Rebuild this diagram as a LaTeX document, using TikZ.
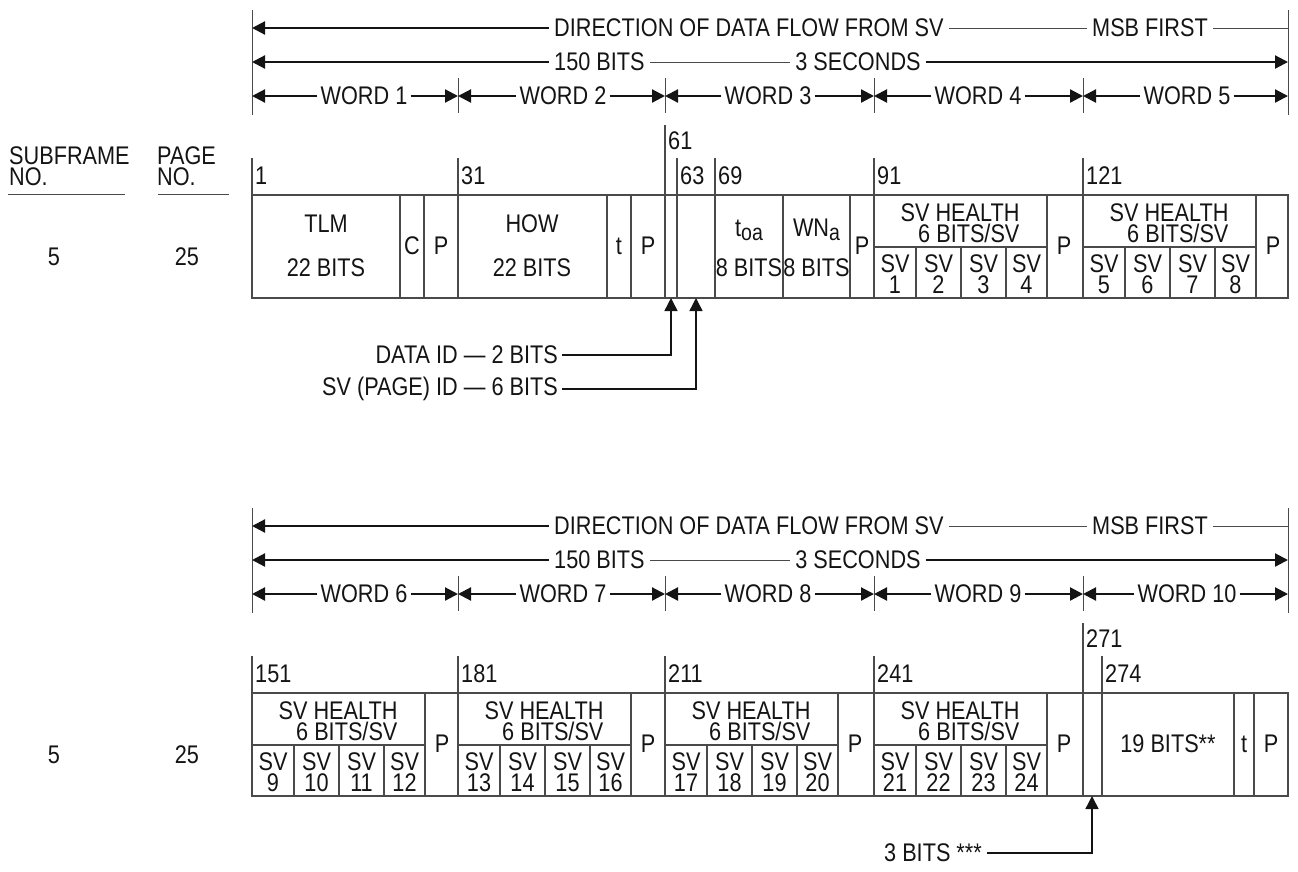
\documentclass[tikz,border=0pt]{standalone}
\usepackage{fontspec}
\setmainfont{Liberation Sans}[FakeStretch=0.85]
\usetikzlibrary{arrows.meta,positioning}
\definecolor{figink}{HTML}{141414}
\definecolor{figrule}{HTML}{4A4A4A}

\begin{document}
\begin{tikzpicture}[x=1pt, y=-1pt,
  every node/.style={font=\fontsize{25.5}{21}\selectfont, text=figink, inner sep=1pt},
  flow/.style={-{Triangle[length=13pt,width=13pt]}, line width=2.2pt, draw=figink},
  pointer/.style={-{Triangle[length=13pt,width=13pt]}, line width=1.5pt, draw=figink},
  thinrule/.style={line width=1pt, draw=figrule},
  cellrule/.style={line width=1.4pt, draw=figrule},
  headtext/.style={inner sep=5pt},
  wordtext/.style={inner sep=3pt},
  numlabel/.style={anchor=west, inner sep=2pt},
  cell/.style={align=center},
]
  \useasboundingbox (0,0) rectangle (1298,871);

  % #1 name, #2 y offset, #3-#7 word numbers
  \newcommand{\flowheader}[7]{%
    \begin{scope}[shift={(0,#2)}]
      \draw[thinrule] (252,10) -- (252,115) (1288,10) -- (1288,115);
      \foreach \x in {458,665,874,1083} {
        \draw[thinrule] (\x,78) -- (\x,113);
      }
      % Direction of data flow.
      \node[headtext, anchor=west] (#1-dir) at (549,28) {DIRECTION OF DATA FLOW FROM SV};
      \node[headtext] (#1-msb) at (1150,28) {MSB FIRST};
      \coordinate (#1-dl) at (252,28);
      \coordinate (#1-dr) at (1288,28);
      \draw[flow] (#1-dir.west) -- (#1-dl);
      \draw[thinrule] (#1-dir.east) -- (#1-msb.west);
      \draw[thinrule] (#1-msb.east) -- (#1-dr);
      % Bits and seconds.
      \node[headtext, anchor=west] (#1-bits) at (549,62) {150 BITS};
      \node[headtext] (#1-secs) at (858,62) {3 SECONDS};
      \coordinate (#1-bl) at (252,62);
      \coordinate (#1-br) at (1288,62);
      \draw[flow] (#1-bits.west) -- (#1-bl);
      \draw[thinrule] (#1-bits.east) -- (#1-secs.west);
      \draw[flow] (#1-secs.east) -- (#1-br);
      % Word spans.
      \foreach \x [count=\i] in {252,458,665,874,1083,1288} {
        \coordinate (#1-t\i) at (\x,96);
      }
      \node[wordtext] (#1-w1) at (364,96) {WORD #3};
      \node[wordtext] (#1-w2) at (563,96) {WORD #4};
      \node[wordtext] (#1-w3) at (768,96) {WORD #5};
      \node[wordtext] (#1-w4) at (978,96) {WORD #6};
      \node[wordtext] (#1-w5) at (1187,96) {WORD #7};
      \foreach \i/\j in {1/2,2/3,3/4,4/5,5/6} {
        \draw[flow] (#1-w\i.west) -- (#1-t\i);
        \draw[flow] (#1-w\i.east) -- (#1-t\j);
      }
    \end{scope}%
  }

  % #1 name, #2 word start, #3-#6 SV numbers
  \newcommand{\svhealth}[6]{%
    \draw[cellrule] (#2,247) -- (#2+173,247);
    \foreach \dx in {42,87,132} {
      \draw[cellrule] (#2+\dx,247) -- (#2+\dx,298);
    }
    \draw[cellrule] (#2+173,195) -- (#2+173,298);
    \node[align=right, inner sep=0pt] (#1-head) at (#2+86,223) {SV HEALTH\\6 BITS/SV};
    \node (#1-p) at (#2+190,246) {P};
    \node[cell, inner sep=0pt] (#1-a) at (#2+21,274) {SV\\#3};
    \node[cell, inner sep=0pt] (#1-b) at (#2+64.5,274) {SV\\#4};
    \node[cell, inner sep=0pt] (#1-c) at (#2+109.5,274) {SV\\#5};
    \node[cell, inner sep=0pt] (#1-d) at (#2+152.5,274) {SV\\#6};
  }

  % Page 25, words 1 to 5.
  \flowheader{hA}{0}{1}{2}{3}{4}{5}
  \node[align=left, anchor=west] (subframe) at (8,166) {SUBFRAME\\NO.};
  \node[align=left, anchor=west] (pagehd) at (156,166) {PAGE\\NO.};
  \draw[thinrule] (8,194) -- (125,194) (158,194) -- (229,194);
  \node (sfA) at (54,257) {5};
  \node (pgA) at (187,257) {25};

  \draw[cellrule] (252,195) rectangle (1288,298);
  \foreach \x in {400,424,458,607,631,665,677,715,783,850,874,1083} {
    \draw[cellrule] (\x,195) -- (\x,298);
  }
  \foreach \x in {252,458,677,715,874,1083} {
    \draw[cellrule] (\x,158) -- (\x,195);
  }
  \draw[cellrule] (665,125) -- (665,195);
  \node[numlabel] (nA1) at (253,176) {1};
  \node[numlabel] (nA31) at (459,176) {31};
  \node[numlabel] (nA61) at (666,141) {61};
  \node[numlabel] (nA63) at (678,176) {63};
  \node[numlabel] (nA69) at (716,176) {69};
  \node[numlabel] (nA91) at (875,176) {91};
  \node[numlabel] (nA121) at (1084,176) {121};

  \node (tlm) at (326,224) {TLM};
  \node (tlmbits) at (326,268) {22 BITS};
  \node (tlmc) at (412,246) {C};
  \node (tlmp) at (441,246) {P};
  \node (how) at (532,224) {HOW};
  \node (howbits) at (532,268) {22 BITS};
  \node (howt) at (619,246) {t};
  \node (howp) at (648,246) {P};
  \node (toa) at (749,230) {t{\fontsize{23}{23}\selectfont\raisebox{-0.35ex}{oa}}};
  \node[inner sep=0pt] (toabits) at (749,268) {8 BITS};
  \node (wna) at (816.5,230) {WN{\fontsize{23}{23}\selectfont\raisebox{-0.35ex}{a}}};
  \node[inner sep=0pt] (wnabits) at (816.5,268) {8 BITS};
  \node (wnap) at (862,246) {P};
  \svhealth{svA}{874}{1}{2}{3}{4}
  \svhealth{svB}{1083}{5}{6}{7}{8}

  \node[anchor=east, inner sep=4pt] (dataid) at (562,355) {DATA ID --- 2 BITS};
  \node[anchor=east, inner sep=4pt] (svid) at (562,389) {SV (PAGE) ID --- 6 BITS};
  \coordinate (dataid-tip) at (671,298);
  \coordinate (svid-tip) at (696,298);
  \draw[pointer] (dataid.east) -| (dataid-tip);
  \draw[pointer] (svid.east) -| (svid-tip);

  % Page 25, words 6 to 10.
  \flowheader{hB}{498}{6}{7}{8}{9}{10}
  \node (sfB) at (54,755) {5};
  \node (pgB) at (187,755) {25};

  \begin{scope}[shift={(0,498)}]
    \draw[cellrule] (252,195) rectangle (1288,298);
    \foreach \x in {458,665,874,1083,1102,1234,1254} {
      \draw[cellrule] (\x,195) -- (\x,298);
    }
    \foreach \x in {252,458,665,874,1102} {
      \draw[cellrule] (\x,158) -- (\x,195);
    }
    \draw[cellrule] (1083,125) -- (1083,195);
    \node[numlabel] (nB151) at (253,176) {151};
    \node[numlabel] (nB181) at (459,176) {181};
    \node[numlabel] (nB211) at (666,176) {211};
    \node[numlabel] (nB241) at (875,176) {241};
    \node[numlabel] (nB271) at (1084,141) {271};
    \node[numlabel] (nB274) at (1103,176) {274};
    \svhealth{svC}{252}{9}{10}{11}{12}
    \svhealth{svD}{458}{13}{14}{15}{16}
    \svhealth{svE}{665}{17}{18}{19}{20}
    \svhealth{svF}{874}{21}{22}{23}{24}
    \node (spbits) at (1168,246) {19 BITS**};
    \node (spt) at (1244,246) {t};
    \node (spp) at (1271,246) {P};
    \node[anchor=east, inner sep=5pt] (spare) at (987,355) {3 BITS ***};
    \coordinate (spare-tip) at (1092,298);
    \draw[pointer] (spare.east) -| (spare-tip);
  \end{scope}
\end{tikzpicture}
\end{document}
